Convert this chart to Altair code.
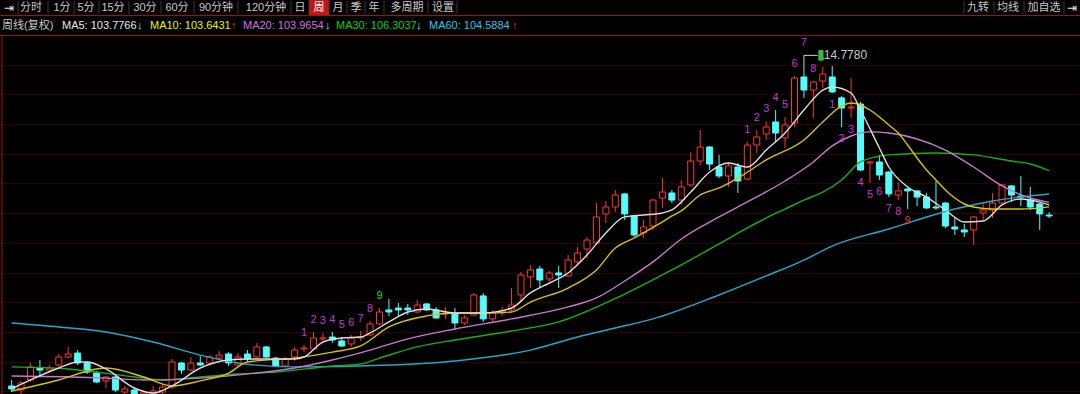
import altair as alt
import pandas as pd

# ---------------- data ----------------
OPEN = [90.47, 90.17, 90.91, 91.79, 91.64, 92.01, 92.60, 92.89, 92.16, 91.42,
        90.84, 91.13, 90.02, 90.17, 89.88, 89.95, 90.02, 90.39, 92.16, 91.64,
        92.16, 92.16, 92.52, 92.82, 92.01, 92.82, 92.60, 93.34, 92.52, 91.94,
        92.60, 93.19, 93.19, 93.93, 94.07, 93.78, 93.56, 94.00, 94.22, 95.03,
        96.06, 96.20, 96.20, 95.91, 96.50, 96.06, 95.76, 95.76, 95.10, 95.69,
        97.09, 95.40, 95.84, 96.06, 97.16, 98.49, 99.07, 98.34, 98.78, 98.56,
        99.59, 100.54, 100.98, 103.12, 103.63, 104.59, 102.97, 101.72, 102.23, 104.29,
        104.66, 104.14, 105.25, 107.01, 108.04, 106.57, 105.91, 106.57, 105.69, 108.19,
        109.00, 109.88, 108.71, 109.81, 113.19, 112.23, 112.89, 113.19, 111.65, 110.91,
        111.20, 106.87, 106.94, 106.20, 104.51, 104.95, 104.81, 104.36, 103.63, 103.92,
        102.16, 101.94, 101.94, 103.19, 103.41, 103.92, 105.18, 104.44, 104.14, 103.85,
        103.04]
HIGH = [90.91, 90.84, 92.16, 92.38, 92.01, 92.82, 93.34, 93.11, 92.31, 91.57,
        91.20, 91.27, 90.47, 90.32, 90.17, 90.47, 90.54, 92.45, 92.23, 92.60,
        92.67, 92.74, 93.04, 92.96, 92.89, 93.11, 93.63, 93.41, 92.60, 92.60,
        93.34, 93.48, 94.44, 94.37, 94.44, 94.07, 94.22, 94.51, 95.25, 96.20,
        96.87, 96.57, 96.50, 96.79, 96.57, 96.28, 96.28, 96.20, 95.69, 97.31,
        97.31, 96.06, 96.28, 97.67, 98.85, 99.36, 99.29, 98.93, 99.29, 100.10,
        100.69, 101.42, 103.92, 104.07, 104.88, 104.66, 103.04, 102.67, 104.22, 105.76,
        104.88, 105.62, 107.67, 109.29, 108.12, 107.46, 106.94, 106.87, 108.41, 109.29,
        109.95, 110.76, 110.25, 113.26, 114.778, 112.89, 113.93, 114.00, 111.79, 113.11,
        111.35, 107.01, 107.46, 106.28, 105.47, 105.03, 104.88, 104.66, 105.54, 103.99,
        102.90, 102.38, 102.97, 103.92, 104.66, 105.32, 105.25, 105.91, 105.11, 103.92,
        103.26]
LOW = [90.02, 89.88, 90.76, 91.27, 91.42, 91.87, 92.52, 92.01, 91.35, 90.69,
       90.32, 90.02, 89.88, 89.73, 89.66, 89.80, 89.88, 90.25, 91.35, 91.57,
       91.94, 92.09, 92.38, 91.94, 91.94, 92.23, 92.52, 92.52, 91.87, 91.87,
       92.31, 92.96, 93.11, 93.63, 93.63, 93.34, 93.34, 93.78, 94.15, 94.96,
       95.62, 95.55, 95.69, 95.84, 95.98, 95.40, 95.40, 94.59, 94.96, 95.62,
       95.18, 95.18, 95.62, 95.98, 96.64, 97.67, 97.67, 98.12, 97.67, 98.49,
       99.44, 99.88, 100.91, 102.45, 103.26, 102.67, 101.42, 101.35, 101.94, 103.56,
       103.92, 103.78, 105.11, 106.72, 106.35, 105.76, 105.11, 104.66, 105.62, 107.60,
       108.56, 108.41, 107.97, 109.51, 111.65, 110.18, 112.38, 112.01, 109.51, 110.18,
       106.28, 105.40, 105.62, 104.36, 104.14, 103.48, 103.70, 103.48, 103.41, 102.08,
       101.57, 101.42, 100.84, 102.67, 102.82, 103.85, 104.00, 103.70, 103.41, 101.94,
       102.82]
CLOSE = [90.25, 90.69, 91.87, 91.64, 91.79, 92.60, 92.82, 92.16, 91.49, 90.76,
         91.13, 90.17, 90.25, 89.88, 90.02, 90.10, 90.39, 92.23, 91.64, 92.16,
         92.01, 92.60, 92.74, 92.16, 92.60, 92.45, 93.34, 92.60, 91.94, 92.45,
         93.11, 93.26, 94.00, 94.00, 93.85, 93.41, 94.00, 94.07, 95.03, 95.91,
         95.91, 96.06, 96.06, 96.42, 96.06, 95.47, 95.84, 95.10, 95.47, 97.16,
         95.40, 95.84, 95.98, 96.42, 98.63, 99.00, 98.26, 98.78, 98.63, 99.73,
         100.25, 101.20, 102.90, 103.63, 104.51, 103.12, 101.57, 102.16, 104.14, 104.73,
         104.14, 105.11, 107.01, 108.04, 106.79, 105.91, 106.65, 105.54, 108.19, 108.78,
         109.51, 109.07, 109.66, 113.11, 112.23, 112.82, 113.41, 112.09, 110.91, 110.98,
         106.35, 106.94, 105.98, 104.59, 104.81, 104.81, 104.36, 103.56, 103.56, 102.23,
         102.01, 101.79, 102.90, 103.41, 103.92, 105.25, 104.51, 104.36, 103.63, 103.12,
         102.97]

MA5_I = [0, 2, 5, 7, 8, 10, 13, 15, 17, 20, 23, 25, 30, 31, 33, 35, 37, 38, 40, 42,
         44, 47, 50, 53, 55, 57, 59, 61, 63, 65, 67, 69, 70, 72, 74, 76, 78, 80, 82, 84,
         86, 87, 89, 90, 92, 93, 95, 97, 99, 101, 103, 105, 107, 109, 110]
MA5_V = [90.25, 90.91, 91.79, 92.23, 92.23, 91.72, 90.32, 89.95, 90.47, 91.79,
         92.38, 92.45, 92.45, 92.60, 93.70, 94.00, 94.07, 94.37, 95.18, 95.91,
         96.13, 95.84, 95.84, 96.20, 97.31, 98.04, 98.78, 100.10, 101.72, 102.90,
         103.04, 103.19, 103.41, 104.73, 106.20, 106.87, 106.57, 107.82, 109.07, 110.76,
         112.23, 112.45, 112.01, 110.76, 107.97, 106.57, 105.10, 104.36, 103.41, 102.53,
         102.60, 103.78, 104.22, 103.99, 103.78]
MA10_I = [0, 5, 9, 10, 14, 17, 20, 23, 25, 30, 34, 37, 40, 44, 47, 50, 53, 55, 59, 62,
          64, 66, 69, 70, 71, 73, 75, 77, 80, 84, 86, 88, 89, 90, 91, 92, 93, 94, 95, 96,
          97, 98, 99, 100, 101, 102, 104, 107, 110]
MA10_V = [90.10, 90.91, 91.72, 91.79, 91.13, 90.47, 90.84, 91.42, 92.23, 92.52,
          92.96, 93.41, 94.81, 95.62, 95.84, 95.84, 95.91, 96.64, 97.67, 99.00,
          100.61, 101.35, 102.53, 102.97, 103.34, 104.51, 105.03, 105.76, 107.09, 108.56,
          109.88, 111.06, 111.28, 111.13, 110.76, 110.25, 109.66, 109.07, 108.19, 107.23,
          106.35, 105.62, 104.88, 104.29, 103.85, 103.63, 103.48, 103.48, 103.64]
MA20_I = [0, 10, 14, 20, 26, 30, 34, 38, 42, 47, 53, 59, 62, 65, 68, 71, 75, 78, 82, 85,
          87, 89, 91, 93, 96, 99, 102, 105, 108, 110]
MA20_V = [91.20, 91.05, 90.91, 91.05, 91.42, 91.79, 92.38, 93.11, 93.93, 94.66,
          95.40, 96.28, 96.94, 98.19, 99.59, 101.28, 102.90, 104.00, 105.54, 106.94,
          108.12, 108.85, 109.15, 109.07, 108.63, 107.82, 106.57, 105.18, 104.29, 103.97]
MA30_I = [0, 6, 13, 16, 20, 24, 28, 34, 37, 39, 43, 47, 53, 58, 65, 70, 75, 78, 80, 82,
          84, 86, 88, 90, 93, 98, 102, 106, 108, 110]
MA30_V = [91.87, 91.72, 91.13, 90.91, 91.13, 91.35, 91.49, 91.94, 92.09, 92.52,
          93.34, 93.85, 94.51, 95.18, 97.23, 99.00, 100.91, 102.09, 102.82, 103.48,
          104.14, 104.73, 105.62, 106.94, 107.46, 107.60, 107.46, 107.01, 106.79, 106.30]
MA60_I = [0, 5, 10, 15, 20, 24, 30, 40, 47, 55, 60, 64, 68, 75, 80, 84, 87, 93, 100, 104, 110]
MA60_V = [95.10, 94.81, 94.44, 93.70, 92.74, 92.16, 91.87, 92.01, 92.31, 93.11,
          94.07, 94.73, 95.40, 97.16, 98.56, 99.73, 100.76, 102.01, 103.48, 104.07, 104.59]

GRID = [114.09, 111.91, 109.72, 107.54, 105.36, 103.17, 100.99, 98.81, 96.62, 94.44, 92.25, 90.07]

# TD count labels: (candle index, text) groups
UP_MAG_IDX = [31, 32, 33, 34, 35, 36, 37, 38, 78, 79, 80, 81, 82, 83, 84, 85]
UP_MAG_TXT = ["1", "2", "3", "4", "5", "6", "7", "8", "1", "2", "3", "4", "5", "6", "7", "8"]
UP_GRN_IDX = [39]
UP_GRN_TXT = ["9"]
DN_MAG_IDX = [87, 88, 89, 90, 91, 92, 93, 94]
DN_MAG_TXT = ["1", "2", "3", "4", "5", "6", "7", "8"]
DN_RED_IDX = [95]
DN_RED_TXT = ["9"]

TOOLBAR = ["分时", "1分", "5分", "15分", "30分", "60分", "90分钟", "120分钟",
           "日", "周", "月", "季", "年", "多周期", "设置"]
RIGHT_TOOLS = ["九转", "均线", "加自选"]
LEGEND = ["周线(复权)", "MA5: 103.7766", "↓", "MA10: 103.6431", "↑", "MA20: 103.9654", "↓",
          "MA30: 106.3037", "↓", "MA60: 104.5884", "↑"]
MAX_LABEL = "114.7780"

# ---------------- layout / style ----------------
W, H = 1080, 394
XDOM = [-0.704, 112.74]
YDOM = [89.879, 118.85]
RED = "#ff3434"
CYAN = "#54fcfc"
MAGENTA = "#c23ccc"
FONT = "Liberation Sans, 'Noto Sans CJK SC', sans-serif"
TOOL_X = [31, 62, 86, 113, 145, 177, 216, 266, 300, 319, 338, 356, 374, 407, 443]
RIGHT_X = [978, 1008, 1044]
SEP_X = [18, 48, 74, 99, 129, 161, 194, 238, 291, 309, 329, 347, 365, 384, 428, 457,
         964, 994, 1024, 1064]
LEG_X = [2, 62, 137, 150, 231, 243, 325, 336, 416, 429, 512]
LEG_C = ["#c8c8c8", "#e8e8e8", CYAN, "#f0f000", RED, "#d270e0", CYAN, "#10d010", CYAN, "#30c4e4", RED]

xs = alt.Scale(domain=XDOM, nice=False, zero=False)
ys = alt.Scale(domain=YDOM, nice=False, zero=False)
GRID_AXIS = alt.Axis(values=GRID, grid=True, labels=False, ticks=False, domain=False,
                     title="", gridColor="#2e0505", gridWidth=1)
X = alt.X("i:Q", scale=xs, axis=None)

candles = pd.DataFrame({"i": list(range(len(OPEN))), "open": OPEN, "high": HIGH,
                        "low": LOW, "close": CLOSE})
candles["dir"] = ["up" if c >= o else "down" for o, c in zip(OPEN, CLOSE)]
DIRS = ["up", "down"]

base = alt.Chart(candles)
wick = base.mark_rule(strokeWidth=1, clip=True).encode(
    x=X, y=alt.Y("low:Q", scale=ys, axis=GRID_AXIS), y2="high:Q",
    color=alt.Color("dir:N", scale=alt.Scale(domain=DIRS, range=[RED, CYAN]), legend=None))
body = base.mark_bar(size=6, orient="vertical", strokeWidth=1, clip=True).encode(
    x=X, y=alt.Y("open:Q", scale=ys, axis=GRID_AXIS), y2="close:Q",
    fill=alt.Fill("dir:N", scale=alt.Scale(domain=DIRS, range=["#000000", CYAN]), legend=None),
    stroke=alt.Stroke("dir:N", scale=alt.Scale(domain=DIRS, range=[RED, CYAN]), legend=None))


def ma_layer(idx, vals, color):
    df = pd.DataFrame({"i": idx, "v": vals})
    return alt.Chart(df).mark_line(color=color, strokeWidth=1.4, interpolate="monotone",
                                   clip=True).encode(
        x=X, y=alt.Y("v:Q", scale=ys, axis=GRID_AXIS))


lines = [
    ma_layer(MA60_I, MA60_V, "#24a8c8"),
    ma_layer(MA30_I, MA30_V, "#18b018"),
    ma_layer(MA20_I, MA20_V, "#c878cc"),
    ma_layer(MA10_I, MA10_V, "#d8c400"),
    ma_layer(MA5_I, MA5_V, "#dcdcdc"),
]


def td_layer(idx, texts, src, color, dy):
    df = pd.DataFrame({"i": idx, "t": texts, "v": [src[k] for k in idx]})
    return alt.Chart(df).mark_text(dy=dy, fontSize=11, font=FONT, baseline="middle",
                                   color=color).encode(
        x=X, y=alt.Y("v:Q", scale=ys, axis=GRID_AXIS), text="t:N")


td = [
    td_layer(UP_MAG_IDX, UP_MAG_TXT, HIGH, MAGENTA, -12),
    td_layer(UP_GRN_IDX, UP_GRN_TXT, HIGH, "#30d030", -12),
    td_layer(DN_MAG_IDX, DN_MAG_TXT, LOW, MAGENTA, 12),
    td_layer(DN_RED_IDX, DN_RED_TXT, LOW, "#e83838", 12),
]

# max annotation
imax = HIGH.index(max(HIGH))
mx = pd.DataFrame({"i": [imax], "v": [HIGH[imax]], "t": [MAX_LABEL]})
mx_base = alt.Chart(mx)
lead = mx_base.transform_calculate(i2="datum.i + 1.45").mark_rule(color="#d0d0d0").encode(
    x=X, x2="i2:Q", y=alt.Y("v:Q", scale=ys, axis=GRID_AXIS))
mx_txt = mx_base.mark_text(align="left", dx=14, baseline="middle", fontSize=12, font=FONT,
                           color="#c8c8c8").encode(
    x=X, y=alt.Y("v:Q", scale=ys, axis=GRID_AXIS), text="t:N")
mx_box = mx_base.mark_point(shape="M-0.5,-1L0.5,-1L0.5,1L-0.5,1Z", size=110, filled=True,
                            opacity=1, color="#3cb83c", xOffset=17).encode(
    x=X, y=alt.Y("v:Q", scale=ys, axis=GRID_AXIS))

# header chrome
HDR = pd.DataFrame({"k": [0]})


def txt(s, x, y, color, size=11, align="left"):
    return alt.Chart(HDR).mark_text(align=align, baseline="middle", font=FONT, fontSize=size,
                                    color=color).encode(
        x=alt.value(x), y=alt.value(y), text=alt.value(s))


def hrule(y, color):
    return alt.Chart(HDR).mark_rule(color=color, strokeWidth=1).encode(
        x=alt.value(0), x2=alt.value(W), y=alt.value(y))


def vrule(x, y1, y2, color):
    return alt.Chart(HDR).mark_rule(color=color, strokeWidth=1).encode(
        x=alt.value(x), y=alt.value(y1), y2=alt.value(y2))


chrome = []
chrome.append(alt.Chart(HDR).mark_rect(color="#c01818").encode(
    x=alt.value(309), x2=alt.value(329), y=alt.value(0), y2=alt.value(15)))
for sx in SEP_X:
    chrome.append(vrule(sx, 1, 14, "#3a3a3a"))
for s, x in zip(TOOLBAR, TOOL_X):
    chrome.append(txt(s, x, 8, "#ffffff" if s == "周" else "#c8c8c8", 11, "center"))
for s, x in zip(RIGHT_TOOLS, RIGHT_X):
    chrome.append(txt(s, x, 8, "#c8c8c8", 11, "center"))
chrome.append(txt("⇥", 8.6, 8, "#e0e0e0", 12, "center"))
chrome.append(txt("⇥", 1072, 8, "#e0e0e0", 12, "center"))
chrome.append(hrule(15.5, "#a01010"))
chrome.append(hrule(35.5, "#a01010"))
chrome.append(vrule(2, 35.5, H, "#a01010"))
for s, x, c in zip(LEGEND, LEG_X, LEG_C):
    chrome.append(txt(s, x, 25.5, c, 11, "left"))

chart = alt.layer(
    wick, body, *lines, *td, lead, mx_txt, mx_box, *chrome
).properties(
    width=W, height=H, background="#000000", padding=0, autosize="none"
).configure_view(stroke=None)

chart.save("out.html", embed_options={"renderer": "svg", "actions": False})
